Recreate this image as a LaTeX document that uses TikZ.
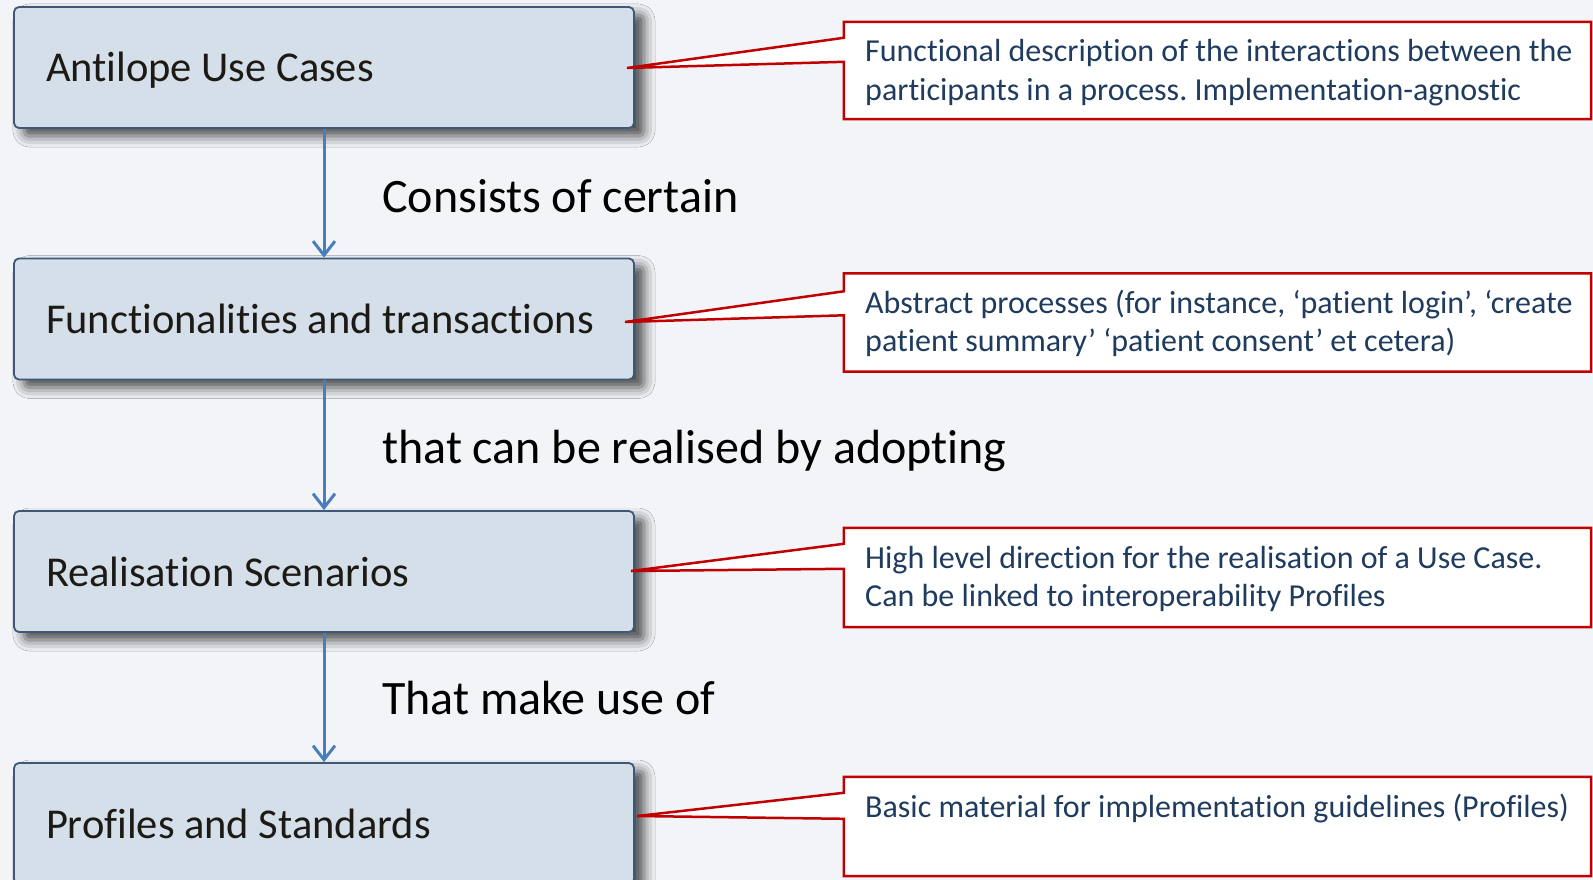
\documentclass[tikz,border=0pt]{standalone}
\usepackage{fontspec}
\setmainfont{Carlito}[Ligatures={NoCommon}]
\usetikzlibrary{arrows.meta,shadows.blur,calc}
\definecolor{bg}{HTML}{F3F4F8}
\definecolor{boxfill}{HTML}{D5DFEA}
\definecolor{boxline}{HTML}{3F5878}
\definecolor{arrowblue}{HTML}{4A7EBB}
\definecolor{calred}{HTML}{C00000}
\definecolor{caltext}{HTML}{1F3B5E}
\definecolor{boxtext}{HTML}{1C1A15}
\newcommand{\myboxtext}[1]{\makebox[556pt][l]{#1}}
\newcommand{\mylines}[1]{\begin{tabular}[t]{@{}l@{}}#1\end{tabular}}
\begin{document}
\begin{tikzpicture}[x=1pt,y=-1pt,
  mainbox/.style={draw=boxline, line width=1.8pt, fill=boxfill, rounded corners=5pt,
    minimum width=620pt, minimum height=121pt, inner xsep=32pt,
    inner ysep=0pt, text height=29pt, text depth=0pt,
    font=\fontsize{42.5}{51}\selectfont, text=boxtext,
    blur shadow={shadow xshift=10pt, shadow yshift=-8pt, shadow blur radius=11pt, shadow opacity=70}},
  lbl/.style={anchor=base west, inner sep=0pt, font=\fontsize{48}{58}\selectfont, text=black},
  conn/.style={draw=arrowblue, line width=3pt, -{Straight Barb[length=14pt,width=22pt,line width=3pt]}},
  callshape/.style={inner sep=0pt, minimum width=747pt},
  callout/.style={draw=calred, line width=2.5pt, fill=white, line join=miter},
  ctext/.style={anchor=base west, inner sep=0pt,
    font=\fontsize{32}{38.5}\selectfont\frenchspacing, text=caltext}
]
\useasboundingbox (0,0) rectangle (1593,880);
\fill[bg] (0,0) rectangle (1593,880);
\clip (0,0) rectangle (1593,880);

% main boxes
\node[mainbox] (b1) at (324,67.5) {\myboxtext{Antilope Use Cases}};
\node[mainbox] (b2) at (324,319) {\myboxtext{Functionalities and transactions}};
\node[mainbox] (b3) at (324,571.5) {\myboxtext{Realisation Scenarios}};
\node[mainbox] (b4) at (324,823.5) {\myboxtext{Profiles and Standards}};

% connectors
\draw[conn] (b1.south) -- (b2.north);
\draw[conn] (b2.south) -- (b3.north);
\draw[conn] (b3.south) -- (b4.north);

% connector labels
\node[lbl] (l1) at (382,212) {Consists of certain};
\node[lbl] (l2) at (382,463) {that can be realised by adopting};
\node[lbl] (l3) at (382,714) {That make use of};

% callout tips
\coordinate (t1) at (627,68);
\coordinate (t2) at (625,322);
\coordinate (t3) at (631,571);
\coordinate (t4) at (637,816);

% callout frames
\node[callshape, minimum height=97pt] (c1) at (1217.5,70.5) {};
\node[callshape, minimum height=98pt] (c2) at (1217.5,322.5) {};
\node[callshape, minimum height=99pt] (c3) at (1217.5,577.5) {};
\node[callshape, minimum height=99pt] (c4) at (1217.5,826.5) {};

\draw[callout] (c1.north west) -- (c1.north east) -- (c1.south east) -- (c1.south west)
  -- ($(c1.north west)+(0,40)$) -- (t1) -- ($(c1.north west)+(0,16)$) -- cycle;
\draw[callout] (c2.north west) -- (c2.north east) -- (c2.south east) -- (c2.south west)
  -- ($(c2.north west)+(0,42)$) -- (t2) -- ($(c2.north west)+(0,18)$) -- cycle;
\draw[callout] (c3.north west) -- (c3.north east) -- (c3.south east) -- (c3.south west)
  -- ($(c3.north west)+(0,41)$) -- (t3) -- ($(c3.north west)+(0,16)$) -- cycle;
\draw[callout] (c4.north west) -- (c4.north east) -- (c4.south east) -- (c4.south west)
  -- ($(c4.north west)+(0,42)$) -- (t4) -- ($(c4.north west)+(0,16)$) -- cycle;

% callout texts
\node[ctext] (ct1) at (865,62) {\mylines{Functional description of the interactions between the\\participants in a process. Implementation-agnostic}};
\node[ctext] (ct2) at (865,313) {\mylines{Abstract processes (for instance, ‘patient login’, ‘create\\patient summary’ ‘patient consent’ et cetera)}};
\node[ctext] (ct3) at (865,568) {\mylines{High level direction for the realisation of a Use Case.\\Can be linked to interoperability Profiles}};
\node[ctext] (ct4) at (865,817) {\mylines{Basic material for implementation guidelines (Profiles)}};
\end{tikzpicture}
\end{document}
